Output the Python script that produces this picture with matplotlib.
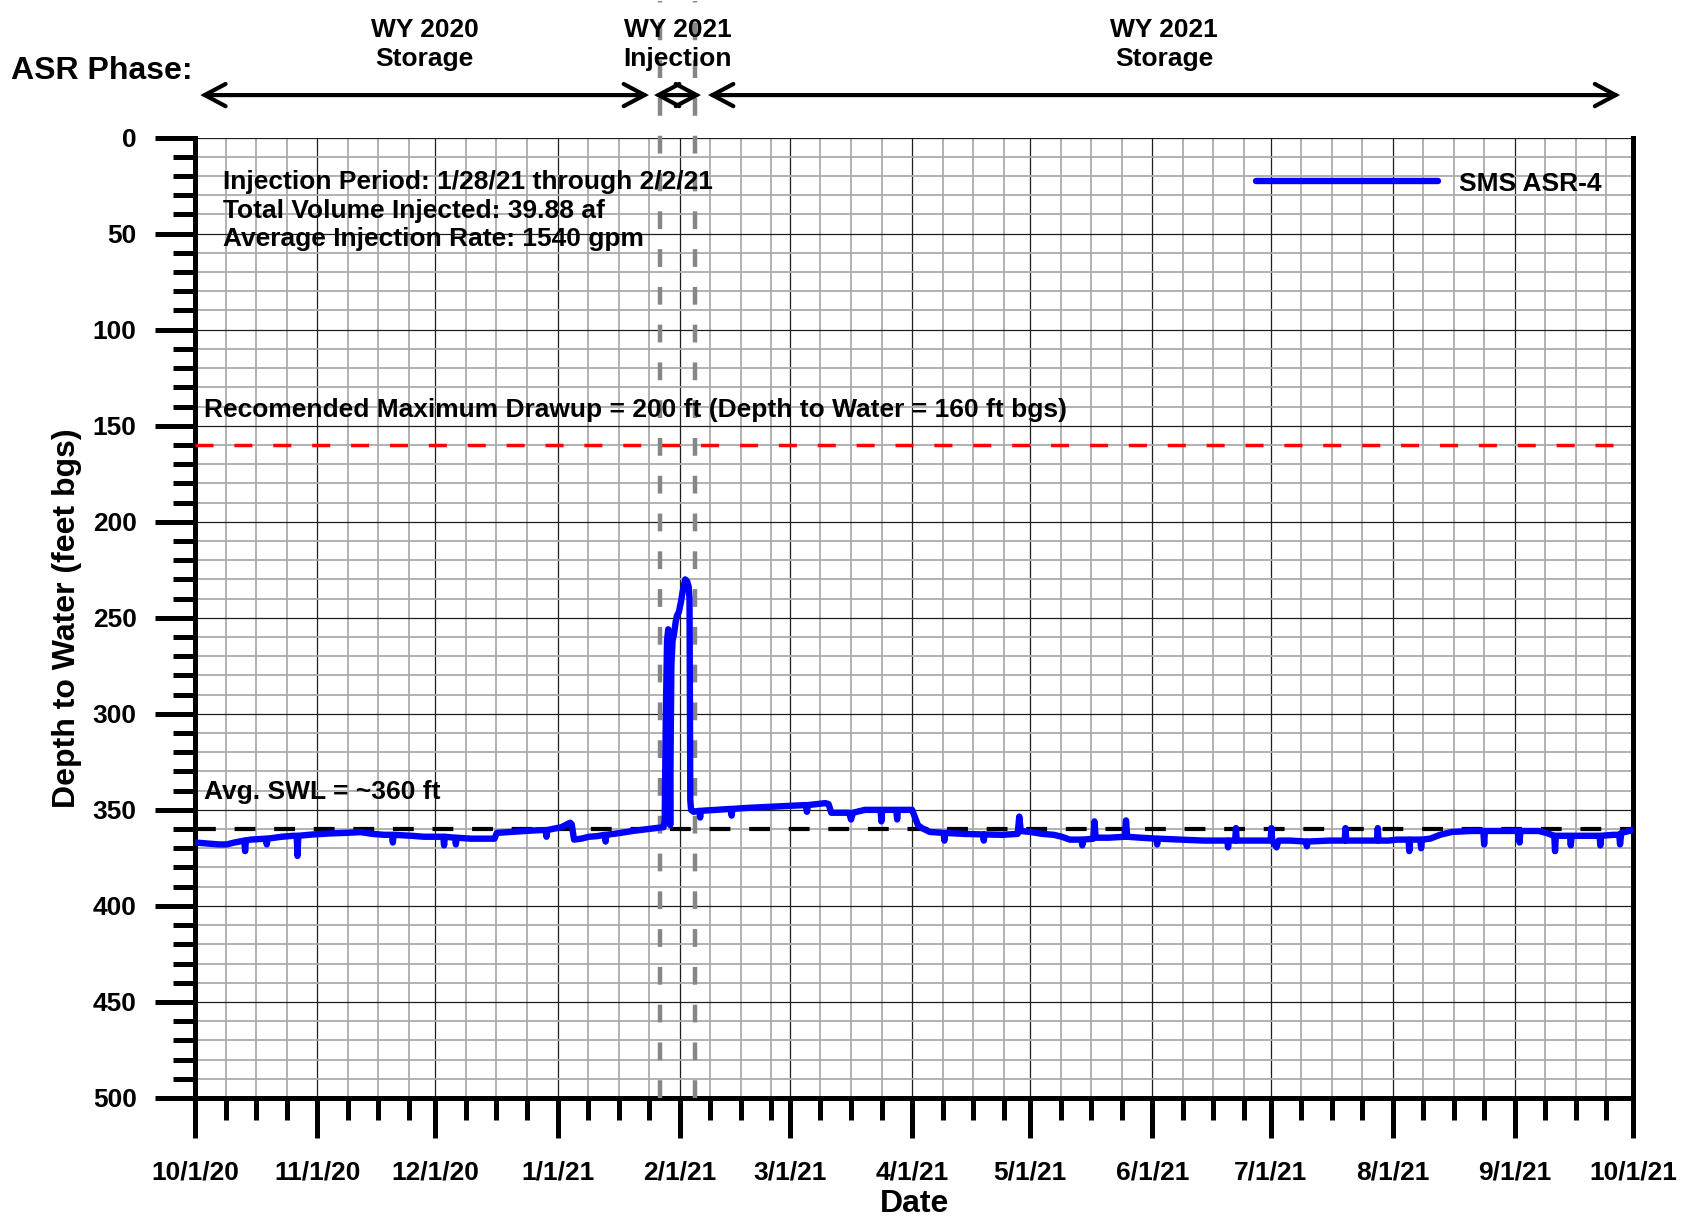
import matplotlib.pyplot as plt
import matplotlib.dates as mdates
from matplotlib.ticker import FixedLocator, FuncFormatter, MultipleLocator
from matplotlib.transforms import blended_transform_factory
from datetime import datetime, timedelta

plt.rcParams['font.family'] = ['Liberation Sans', 'DejaVu Sans']
plt.rcParams['font.weight'] = 'bold'

start = datetime(2020, 10, 1)
end = datetime(2021, 10, 1)

# SMS ASR-4 depth to water (days after 10/1/20, ft bgs)
days = [0, 3, 6, 8, 10, 12.5, 12.7, 12.9, 14, 18, 18.2, 18.4, 22, 25, 25.8, 26, 26.2,
        30, 34, 38, 42, 45, 48, 50, 50.2, 50.4, 55, 58, 63, 63.2, 63.4, 66, 66.2, 66.4,
        70, 76, 76.6, 80, 84, 87, 89, 89.2, 89.4, 93, 95.2, 95.6, 96.2, 98, 100, 102,
        104, 104.2, 104.4, 108, 111, 113, 115.7, 118.9, 119.2, 119.5, 119.8, 120.1,
        120.4, 120.6, 120.7, 120.9, 121.2, 121.6, 122.0, 122.3, 122.8, 123.3, 123.8,
        124.4, 124.9, 125.3, 125.5, 125.6, 125.7, 125.9, 126.5, 128, 128.2, 128.4, 132,
        136, 136.2, 136.4, 140, 145, 150, 155, 155.3, 155.6, 160, 160.8, 161.5, 164, 166,
        166.5, 167, 170, 174, 174.2, 174.4, 178, 178.2, 178.4, 182, 183.5, 184.5, 186.5,
        190, 190.2, 190.4, 195, 200, 200.2, 200.4, 205, 208.8, 209.2, 209.6, 212, 215,
        218, 220, 222, 225, 225.2, 225.4, 228, 228.3, 228.6, 232, 236, 236.3, 236.6,
        240, 244, 244.2, 244.4, 250, 256, 262, 262.2, 262.4, 264, 264.2, 264.4, 270, 273,
        273.2, 273.4, 274.5, 275, 278, 282, 282.2, 282.4, 288, 291.8, 292, 292.2, 296,
        300, 300.2, 300.4, 303, 305, 308, 308.2, 308.4, 311, 311.2, 311.4, 313.5, 316,
        319, 324, 327, 327.2, 327.4, 332, 336, 336.2, 336.4, 341, 343, 345, 345.2, 345.4,
        349, 349.2, 349.4, 354, 356.5, 356.7, 356.9, 360, 361.5, 361.7, 362, 365]
depth = [367, 367.5, 368, 368, 367, 366, 371.5, 366, 365.5, 365, 368, 365, 364, 363.5,
         363.5, 374, 363.5, 362.8, 362.3, 362, 361.6, 362.5, 363, 363, 367, 363, 363.5,
         364, 364, 368.5, 364, 364.5, 368, 364.5, 365, 365, 362, 361.5, 361, 360.6,
         360.5, 364, 360.5, 359, 356.7, 357.5, 365.5, 365, 364, 363.7, 363, 366.5, 363,
         362, 361, 360.5, 359.8, 359, 356, 300, 262, 256, 300, 358, 320, 275, 262, 258,
         252, 249, 247, 242, 236, 230, 231, 234, 240, 300, 345, 350, 351, 350.5, 354,
         350.5, 350, 349.5, 353, 349.5, 349, 348.5, 348, 347.5, 351, 347.5, 346.5, 347,
         351.5, 351.5, 351.5, 355, 351.5, 350, 350, 356, 350, 350, 355, 350, 350, 358,
         359.5, 361.5, 362, 366, 362, 362.5, 362.8, 366, 362.8, 363, 362.5, 353.5, 361,
         361.5, 362.5, 363, 364, 365.5, 365.5, 368.5, 365.5, 365, 356, 364.5, 364.5, 364,
         355.5, 364, 364.5, 365, 368, 365, 365.5, 366, 366, 369.5, 366, 366, 359.5, 366,
         366, 366, 359.5, 366, 369.5, 366, 366, 366.5, 369, 366.5, 366, 366, 359.5, 366,
         366, 366, 359.5, 366, 366, 365.5, 365.5, 371.5, 365.5, 365.5, 370, 365.5, 365,
         363, 361.5, 361, 361, 368, 361, 361, 361, 367, 361, 361, 362, 363.5, 371.5,
         363.5, 363.5, 368.5, 363.5, 363.5, 363.5, 368.5, 363.5, 363, 363, 368, 362,
         360.5]

inj_lines = [datetime(2021, 1, 27, 2), datetime(2021, 2, 4, 20)]
max_drawup = 160
avg_swl = 360

phase_labels = ["WY 2020\nStorage", "WY 2021\nInjection", "WY 2021\nStorage"]
phase_spans = [(datetime(2020, 10, 2, 8), datetime(2021, 1, 24, 5)),
               (datetime(2021, 1, 25, 12), datetime(2021, 2, 6, 10)),
               (datetime(2021, 2, 8, 5), datetime(2021, 9, 27, 17))]

info_text = ("Injection Period: 1/28/21 through 2/2/21\n"
             "Total Volume Injected: 39.88 af\n"
             "Average Injection Rate: 1540 gpm")

dates = [start + timedelta(days=d) for d in days]

fig = plt.figure(figsize=(16.86, 12.19), dpi=100)
ax = fig.add_axes([0.1157, 0.0993, 0.8529, 0.7878])

ax.plot(dates, depth, color='#0000ff', lw=4.6, label='SMS ASR-4', zorder=5,
        solid_joinstyle='round', solid_capstyle='round')

ax.axhline(max_drawup, color='#ff0000', lw=2.5, ls=(0, (5.2, 6.0)), zorder=4)
ax.axhline(avg_swl, color='black', lw=3.0, ls=(0, (5.0, 4.5)), zorder=4)
for d in inj_lines:
    ax.axvline(d, ymin=0, ymax=1.142, color='#868686', lw=3.2, ls=(0, (4.0, 4.5)),
               clip_on=False, zorder=3)

ax.set_xlim(start, end)
ax.set_ylim(500, 0)

# month ticks, minor ticks every 7.75 days inside each month
months = [datetime(2020 + (9 + i) // 12, (9 + i) % 12 + 1, 1) for i in range(13)]
minors = [m + timedelta(days=7.75 * k) for m in months[:-1] for k in (1, 2, 3)]
ax.xaxis.set_major_locator(FixedLocator(mdates.date2num(months)))
ax.xaxis.set_minor_locator(FixedLocator(mdates.date2num(minors)))
ax.xaxis.set_major_formatter(FuncFormatter(
    lambda v, p: (lambda d: f"{d.month}/{d.day}/{d.year % 100:02d}")(mdates.num2date(v))))
ax.yaxis.set_major_locator(MultipleLocator(50))
ax.yaxis.set_minor_locator(MultipleLocator(10))

ax.grid(which='major', color='#1e1e1e', lw=0.9, zorder=1)
ax.grid(which='minor', color='#ababab', lw=1.3, zorder=0)
ax.set_axisbelow(True)

ax.tick_params(which='major', direction='out', length=29, width=3.6, labelsize=19)
ax.tick_params(which='minor', direction='out', length=16, width=3.6)
ax.tick_params(axis='x', which='major', pad=16)
ax.tick_params(axis='y', which='major', pad=13)

for s in ['left', 'bottom', 'right']:
    ax.spines[s].set_linewidth(3.6)
ax.spines['top'].set_visible(False)

ax.set_xlabel('Date', fontsize=23, fontweight='bold', labelpad=3)
ax.set_ylabel('Depth to Water (feet bgs)', fontsize=23, fontweight='bold', labelpad=8)

ax.text(datetime(2020, 10, 8), 38, info_text, fontsize=19, va='center', ha='left',
        linespacing=1.25, zorder=6)
ax.text(datetime(2020, 10, 3, 8), 142, 'Recomended Maximum Drawup = 200 ft (Depth to Water = 160 ft bgs)',
        fontsize=19, va='center', ha='left', zorder=6)
ax.text(datetime(2020, 10, 3, 8), 340.5, 'Avg. SWL = ~360 ft', fontsize=19,
        va='center', ha='left', zorder=6)

leg = ax.legend(loc='center right', bbox_to_anchor=(0.978, 0.952), frameon=False,
                fontsize=19, handlelength=6.9, handletextpad=0.8, borderpad=0,
                borderaxespad=0)

# ASR phase arrows above the plot
trans = blended_transform_factory(ax.transData, fig.transFigure)
for label, (a, b) in zip(phase_labels, phase_spans):
    xa, xb = mdates.date2num(a), mdates.date2num(b)
    ax.annotate('', xy=(xb, 0.922), xytext=(xa, 0.922), xycoords=trans, textcoords=trans,
                arrowprops=dict(arrowstyle='<->,head_length=1.5,head_width=0.8',
                                lw=3.0, color='black', shrinkA=0, shrinkB=0,
                                joinstyle='miter'),
                annotation_clip=False)
    ax.text((xa + xb) / 2, 0.9635, label, transform=trans, ha='center', va='center',
            fontsize=19, linespacing=1.3, clip_on=False)
fig.text(0.0065, 0.942, 'ASR Phase:', fontsize=23, ha='left', va='center')

fig.savefig('out.png', dpi=100)
